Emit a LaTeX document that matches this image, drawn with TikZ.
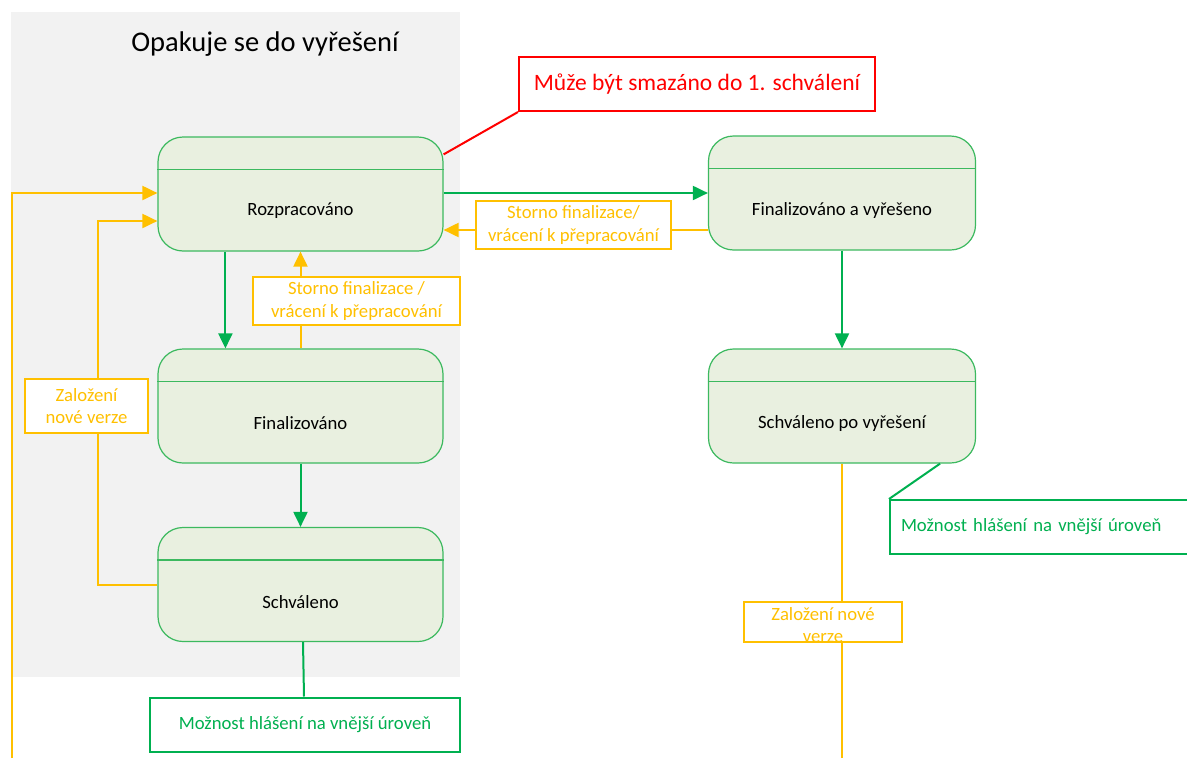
\documentclass[tikz,border=0pt]{standalone}
\usepackage{fontspec}
\setmainfont{Carlito}
\usetikzlibrary{arrows.meta,calc}

\definecolor{grn}{HTML}{00B050}
\definecolor{grnline}{HTML}{3CB95F}
\definecolor{grnfill}{HTML}{E9F0E0}
\definecolor{org}{HTML}{FFC000}
\definecolor{panel}{HTML}{F2F2F2}
\definecolor{rd}{HTML}{FF0000}

\newcommand\dgfont{\fontsize{18.7}{22.8}\selectfont}

\tikzset{
  state/.style={draw=grnline, fill=grnfill, line width=1.2pt, rounded corners=25pt,
                minimum width=285pt, minimum height=114pt, inner sep=0pt},
  divider/.style={draw=grnline, line width=1.2pt},
  statetext/.style={font=\dgfont, text=black, inner sep=0pt},
  titletext/.style={font=\fontsize{28.5}{34}\selectfont, text=black, inner sep=0pt},
  garrow/.style={draw=grn, line width=2pt, -{Triangle[length=15pt,width=14pt]}},
  oarrow/.style={draw=org, line width=2pt, -{Triangle[length=15pt,width=14pt]}},
  oline/.style={draw=org, line width=2pt},
  gline/.style={draw=grn, line width=2pt},
  rline/.style={draw=rd, line width=2pt},
  olabel/.style={draw=org, fill=white, line width=2pt, text=org, font=\dgfont,
                 align=center, inner sep=0pt},
  obox/.style={draw=org, fill=white, line width=2pt, inner sep=0pt},
  otext/.style={text=org, font=\dgfont, align=center, inner sep=0pt},
  gnote/.style={draw=grn, fill=white, line width=2pt, text=grn, font=\dgfont, inner sep=0pt},
  rnote/.style={draw=rd, fill=white, line width=2pt, text=rd,
                font=\fontsize{23.5}{28}\selectfont, inner sep=0pt},
}

\begin{document}
\begin{tikzpicture}[x=1pt, y=-1pt]
\useasboundingbox (0,0) rectangle (1187,758);
\clip (0,0) rectangle (1187,758);

% shaded region of the repeating cycle
\fill[panel] (11,12) rectangle (460,677);
\node[titletext] (title) at (265,44) {Opakuje se do vyřešení};

% states
\node[state] (roz) at (300.5,194) {};
\node[state] (fin) at (300.5,406) {};
\node[state] (sch) at (300.5,584.5) {};
\node[state, minimum width=267pt] (fav) at (842,193) {};
\node[state, minimum width=267pt] (spv) at (842,406) {};

\foreach \n in {roz,fin,sch,fav,spv}
  \draw[divider] ($(\n.north west)+(0,33)$) -- ($(\n.north east)+(0,33)$);

\node[statetext] (rozt) at ($(roz.south)+(0,-40.5)$) {Rozpracováno};
\node[statetext] (fint) at ($(fin.south)+(0,-40.5)$) {Finalizováno};
\node[statetext] (scht) at ($(sch.south)+(0,-40)$) {Schváleno};
\node[statetext] (favt) at ($(fav.south)+(0,-40.5)$) {Finalizováno a vyřešeno};
\node[statetext] (spvt) at ($(spv.south)+(0,-40.5)$) {Schváleno po vyřešení};

% left column transitions
\draw[garrow] ($(roz.south west)+(68,0)$) -- ($(fin.north west)+(68,0)$);
\draw[oarrow] (fin.north) -- (roz.south);
\node[olabel, minimum width=207pt, minimum height=48pt] (lbl1) at (356.5,301)
  {Storno finalizace /\\vrácení k přepracování};
\draw[garrow] (fin.south) -- (sch.north);

\coordinate (rozlow) at ($(roz.west)+(0,27)$);
\draw[oarrow] (sch.west) -- ++(-59,0) |- (rozlow);
\node[olabel, minimum width=123pt, minimum height=54pt] (lbl2) at (86.5,406)
  {Založení\\nové verze};

\coordinate (outerend) at (12,758);
\draw[oarrow] (outerend) |- ($(roz.west)+(0,-1)$);

% across to the resolved branch
\draw[garrow] (roz.east |- fav.west) -- (fav.west);
\draw[oarrow] ($(fav.west)+(0,37)$) -- ($(roz.east)+(0,36)$);
\node[olabel, minimum width=195pt, minimum height=48pt] (lbl3) at (573.5,225)
  {Storno finalizace/\\vrácení k přepracování};

\draw[garrow] (fav.south) -- (spv.north);

\coordinate (rightend) at (842,758);
\draw[oline] (spv.south) -- (rightend);
\node[obox, minimum width=158pt, minimum height=40pt] (lbl4) at (823,622) {};
\node[otext] (lbl4t) at (823,625) {Založení nové\\verze};

% notes
\node[gnote, anchor=north west, text width=288pt, inner xsep=11pt, minimum height=54pt,
      align=left] (note2) at (889,499) {Možnost hlášení na vnější úroveň};
\draw[gline] ($(spv.south east)+(-36,0)$) -- (note2.north west);

\node[gnote, minimum width=310pt, minimum height=54pt] (note1) at (305,724.5)
  {Možnost hlášení na vnější úroveň};
\draw[gline] ($(sch.south)+(2.5,0)$) -- ($(note1.north)+(-1,0)$);

\node[rnote, minimum width=356pt, minimum height=54pt] (note3) at (697,84)
  {Může být smazáno do 1. schválení};
\draw[rline] ($(roz.north east)+(0,18)$) -- (note3.south west);
\end{tikzpicture}
\end{document}
